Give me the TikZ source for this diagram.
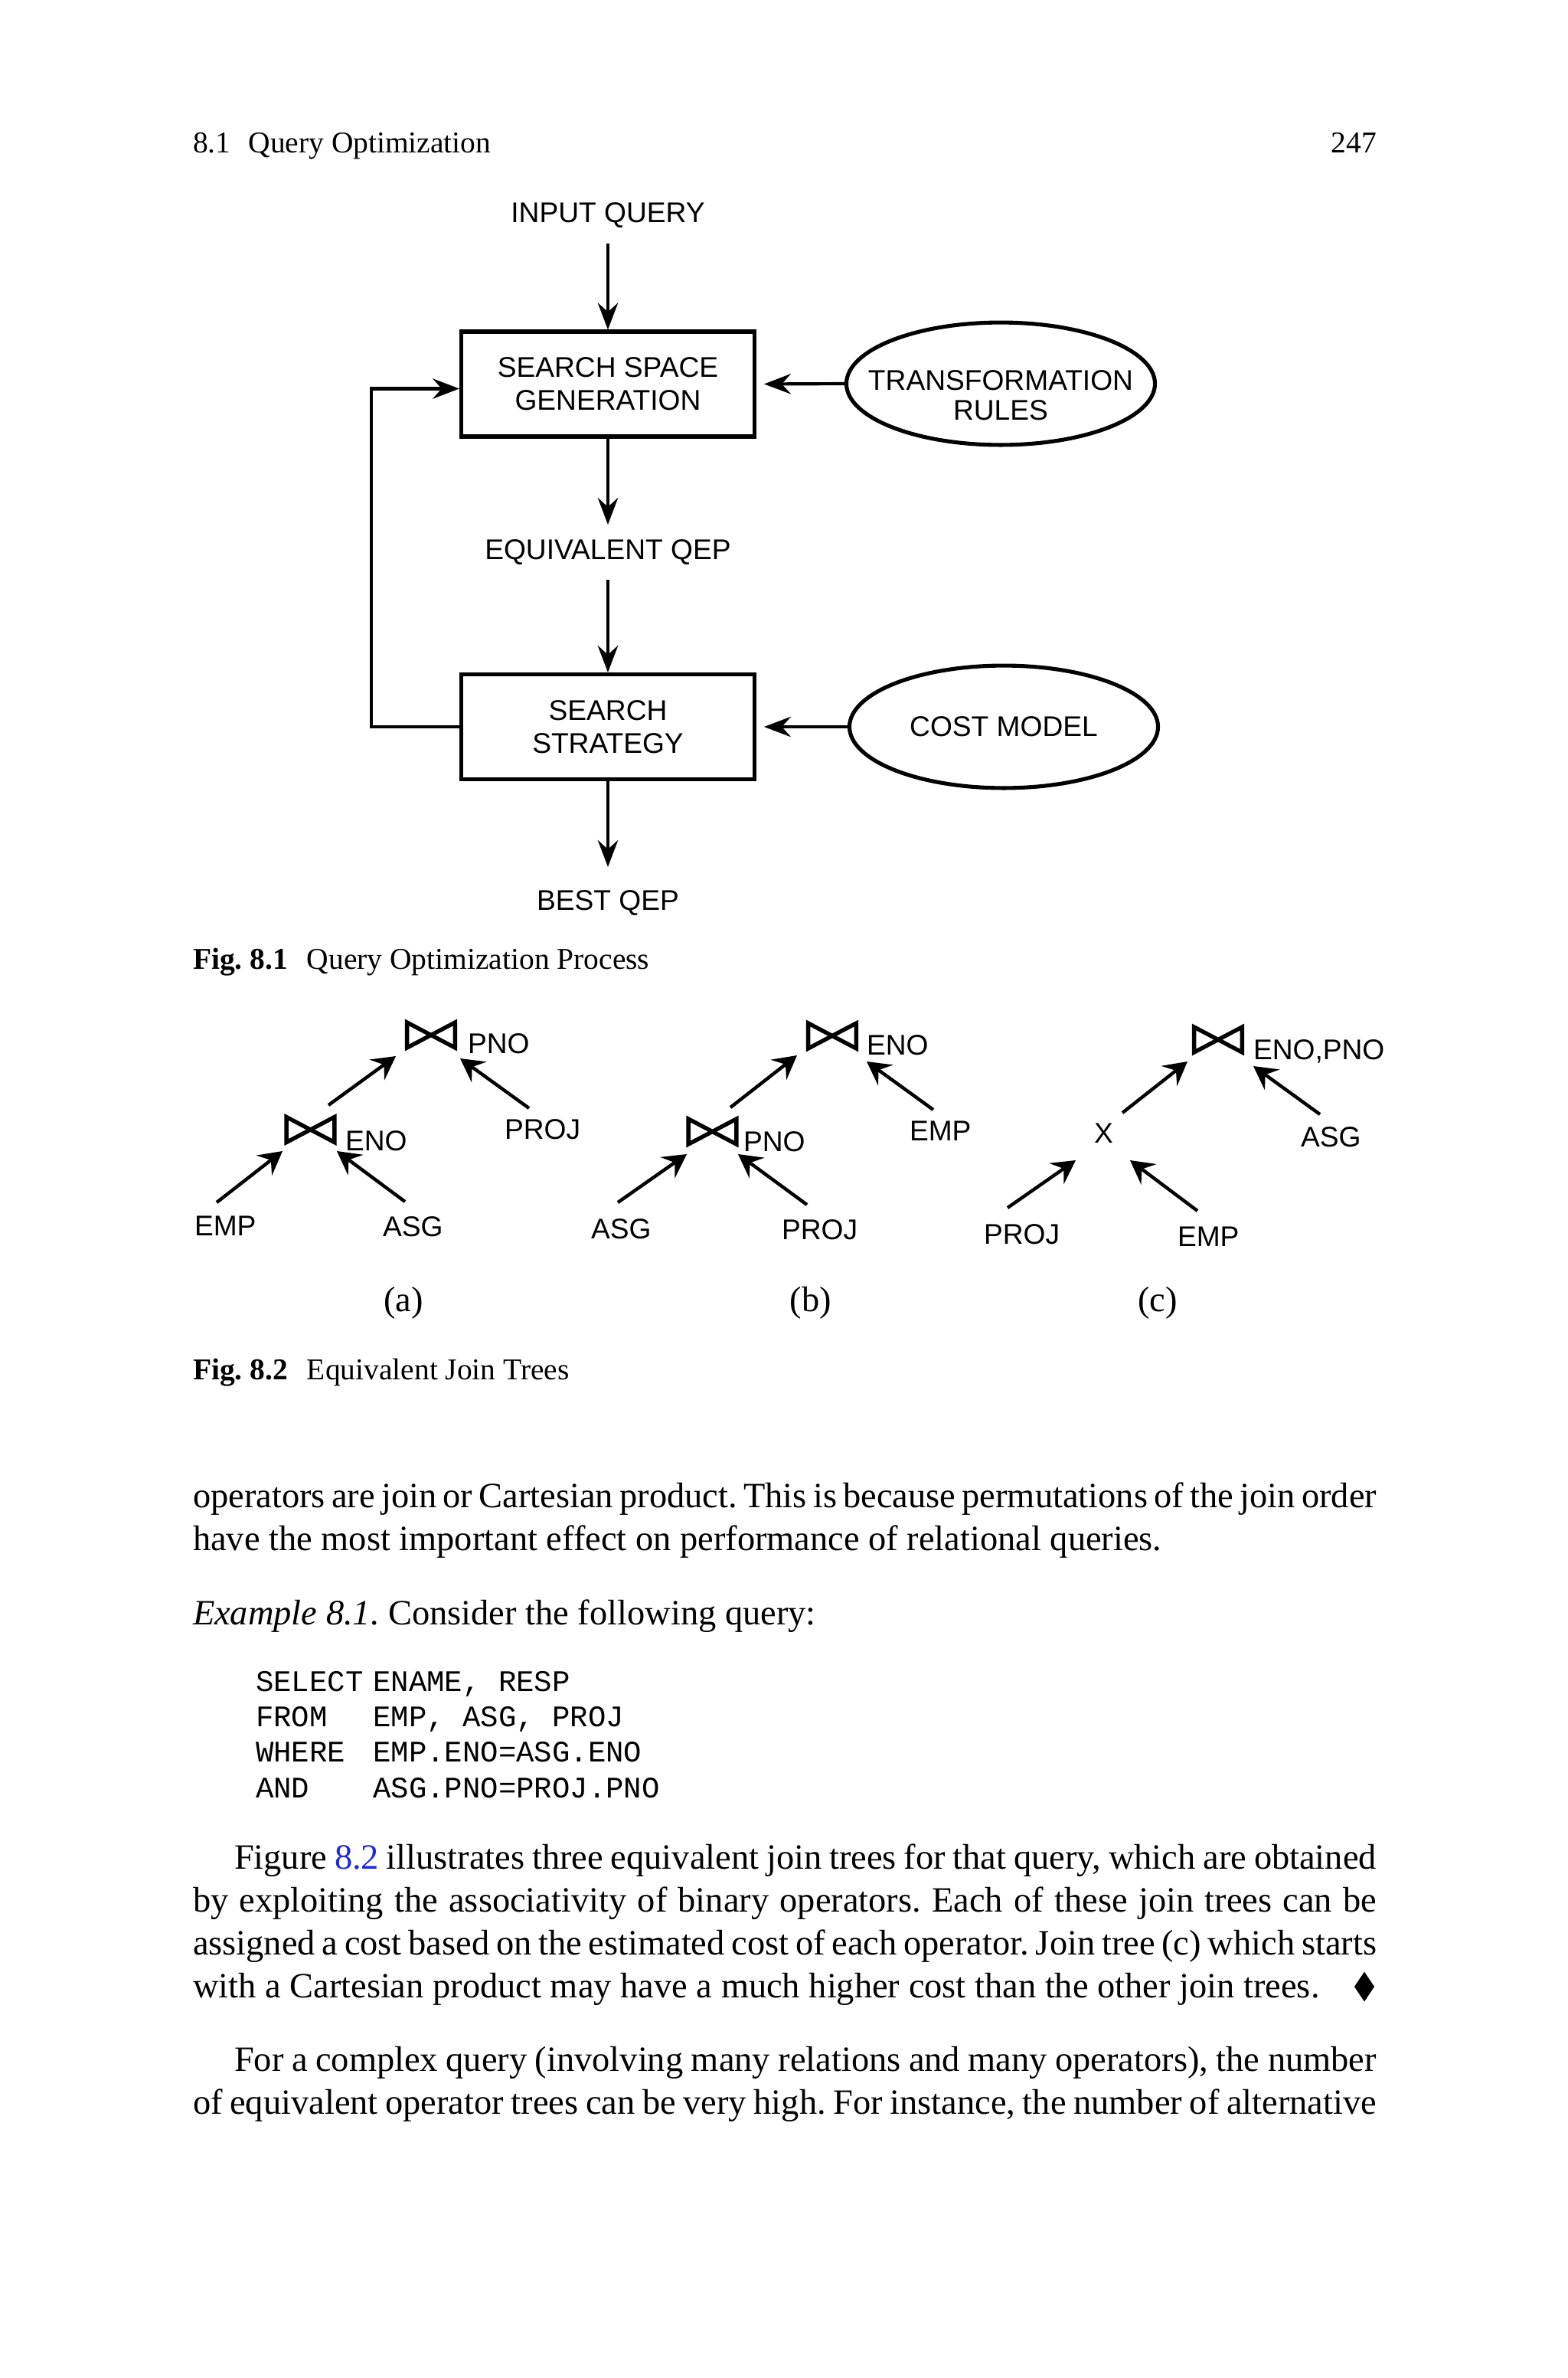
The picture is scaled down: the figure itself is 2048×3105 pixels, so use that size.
\documentclass[tikz,border=0pt]{standalone}
\usepackage{fontspec}
\setmainfont{Liberation Serif}
\setmonofont{Liberation Mono}
\newfontfamily\diagfont{Liberation Sans}
\usetikzlibrary{arrows.meta,shapes.geometric}
\definecolor{linkblue}{RGB}{30,40,220}
\frenchspacing
\begin{document}
\begin{tikzpicture}[x=0.0756836mm,y=-0.0756836mm,
  every node/.style={inner sep=0pt, outer sep=0pt},
  dtext/.style={font=\diagfont\fontsize{8}{9.25}\selectfont},
  boxnode/.style={draw, line width=1.15pt, minimum width=28.95mm, minimum height=10.35mm,
     font=\diagfont\fontsize{8}{9.25}\selectfont, align=center, outer sep=0.575pt},
  ellnode/.style={draw, ellipse, line width=1.1pt, minimum width=30.5mm, minimum height=12.1mm, outer sep=0.55pt},
  elltext/.style={font=\diagfont\fontsize{8}{8.4}\selectfont, align=center},
  arr/.style={line width=0.9pt, -{Stealth[length=2.65mm,width=2mm,inset=0.9mm]}},
  tarr/.style={line width=0.95pt, -{Stealth[length=2.3mm,width=2.5mm,inset=0.85mm]}},
  tlabel/.style={font=\diagfont\fontsize{8}{9.6}\selectfont, anchor=base west},
  jn/.style={minimum width=4.75mm, minimum height=2.5mm},
  bowline/.style={line width=1.15pt},
  body/.style={font=\fontsize{10}{12}\selectfont, anchor=base west},
  capt/.style={font=\fontsize{8.5}{10}\selectfont, anchor=base west},
  code/.style={font=\ttfamily\fontsize{8.4}{10}\selectfont, anchor=base west},
]
\useasboundingbox (0,0) rectangle (2048,3105);
\fill[white] (0,0) rectangle (2048,3105);

% running head
\node[capt] (hdr) at (252,199) {8.1\hspace{5pt}Query Optimization};
\node[capt, anchor=base east] (pg) at (1798,199) {247};

% ---------- Fig 8.1 ----------
\node[dtext, anchor=base] (inq) at (794,290) {INPUT QUERY};
\node[boxnode] (ssg) at (794,501.5) {SEARCH SPACE\\GENERATION};
\node[ellnode] (tr) at (1307,501) {};
\node[elltext] (trt) at (1307,516) {TRANSFORMATION\\RULES};
\node[dtext, anchor=base] (eq) at (794,730) {EQUIVALENT QEP};
\node[boxnode] (ss) at (794,949) {SEARCH\\STRATEGY};
\node[ellnode] (cm) at (1311,949) {};
\node[dtext] (cmt) at (1311,949) {COST MODEL};
\node[dtext, anchor=base] (best) at (794,1188) {BEST QEP};

\draw[arr] ([shift={(0,28)}]inq.base) -- (ssg.north);
\draw[arr, shorten >=0.76mm] (tr.west) -- (ssg.east);
\draw[arr] (ssg.south) -- ([shift={(0,-45)}]eq.base);
\draw[arr] ([shift={(0,27)}]eq.base) -- (ss.north);
\draw[arr, shorten >=0.76mm] (cm.west) -- (ss.east);
\draw[arr] (ss.south) -- ([shift={(0,-56)}]best.base);
\draw[arr] (ss.west) -- ++(-115,0) |- ([shift={(0,6)}]ssg.west);

\node[capt] (cap1) at (252,1265) {\textbf{Fig. 8.1}\hspace{5.4pt}Query Optimization Process};

% ---------- Fig 8.2 ----------
% tree (a)
\node[jn] (ja1) at (563,1351.5) {};
\node[tlabel] (ja1s) at (611,1375) {PNO};
\node[jn] (ja2) at (405.5,1475) {};
\node[tlabel] (ja2s) at (451,1502) {ENO};
\node[tlabel] (aemp) at (254,1613) {EMP};
\node[tlabel] (aasg) at (500,1614) {ASG};
\node[tlabel] (aproj) at (659,1487) {PROJ};
\node[body, anchor=base] (la) at (527,1712) {(a)};
\draw[tarr] ([shift={(29,-43)}]aemp.base west) -- ([shift={(-36.5,28)}]ja2.center);
\draw[tarr] ([shift={(29,-45)}]aasg.base west) -- ([shift={(34.5,28)}]ja2.center);
\draw[tarr] ([shift={(23.5,-32)}]ja2.center) -- ([shift={(-46,27.5)}]ja1.center);
\draw[tarr] ([shift={(32,-40)}]aproj.base west) -- ([shift={(38,30.5)}]ja1.center);

% tree (b)
\node[jn] (jb1) at (1087,1352.5) {};
\node[tlabel] (jb1s) at (1132,1377) {ENO};
\node[jn] (jb2) at (930.5,1477.5) {};
\node[tlabel] (jb2s) at (971,1503) {PNO};
\node[tlabel] (basg) at (772,1617) {ASG};
\node[tlabel] (bproj) at (1021,1618) {PROJ};
\node[tlabel] (bemp) at (1188,1489) {EMP};
\node[body, anchor=base] (lb) at (1059,1712) {(b)};
\draw[tarr] ([shift={(35,-47)}]basg.base west) -- ([shift={(-33.5,29.5)}]jb2.center);
\draw[tarr] ([shift={(33,-45)}]bproj.base west) -- ([shift={(33.5,29.5)}]jb2.center);
\draw[tarr] ([shift={(23.5,-31.5)}]jb2.center) -- ([shift={(-46,25.5)}]jb1.center);
\draw[tarr] ([shift={(31,-40)}]bemp.base west) -- ([shift={(45,33.5)}]jb1.center);

% tree (c)
\node[jn] (jc1) at (1591,1357.5) {};
\node[tlabel] (jc1s) at (1637,1383) {ENO,PNO};
\node[tlabel] (cx) at (1429,1492) {X};
\node[tlabel] (casg) at (1699,1497) {ASG};
\node[tlabel] (cproj) at (1285,1624) {PROJ};
\node[tlabel] (cemp) at (1538,1627) {EMP};
\node[body, anchor=base] (lc) at (1512,1712) {(c)};
\draw[tarr] ([shift={(31,-47)}]cproj.base west) -- ([shift={(-24,23)}]cx.base west);
\draw[tarr] ([shift={(26,-46)}]cemp.base west) -- ([shift={(47,23)}]cx.base west);
\draw[tarr] ([shift={(37,-39)}]cx.base west) -- ([shift={(-40,28.5)}]jc1.center);
\draw[tarr] ([shift={(25,-42)}]casg.base west) -- ([shift={(46,34.5)}]jc1.center);

\foreach \j in {ja1,ja2,jb1,jb2,jc1}
  \draw[bowline] (\j.south west) -- (\j.north west) -- (\j.south east) -- (\j.north east) -- cycle;

\node[capt] (cap2) at (252,1801) {\textbf{Fig. 8.2}\hspace{5.4pt}Equivalent Join Trees};

% ---------- body text ----------
\node[body] (p1a) at (252,1968) {\makebox[117mm][s]{operators are join or Cartesian product. This is because permutations of the join order}};
\node[body] (p1b) at (252,2024) {have the most important effect on performance of relational queries.};
\node[body] (ex) at (252,2121) {\textit{Example 8.1.} Consider the following query:};

\node[code] (c1) at (334,2208) {\makebox[11.6mm][l]{SELECT}ENAME, RESP};
\node[code] (c2) at (334,2254) {\makebox[11.6mm][l]{FROM}EMP, ASG, PROJ};
\node[code] (c3) at (334,2300) {\makebox[11.6mm][l]{WHERE}EMP.ENO=ASG.ENO};
\node[code] (c4) at (334,2347) {\makebox[11.6mm][l]{AND}ASG.PNO=PROJ.PNO};

\node[body] (p2a) at (306,2440) {\makebox[112.9mm][s]{Figure \textcolor{linkblue}{8.2} illustrates three equivalent join trees for that query, which are obtained}};
\node[body] (p2b) at (252,2496) {\makebox[117mm][s]{by exploiting the associativity of binary operators. Each of these join trees can be}};
\node[body] (p2c) at (252,2552) {\makebox[117mm][s]{assigned a cost based on the estimated cost of each operator. Join tree (c) which starts}};
\node[body] (p2d) at (252,2608) {with a Cartesian product may have a much higher cost than the other join trees.};
\node[diamond, fill=black, minimum width=1.97mm, minimum height=2.95mm] (qed) at (1782,2594) {};

\node[body] (p3a) at (306,2704) {\makebox[112.9mm][s]{For a complex query (involving many relations and many operators), the number}};
\node[body] (p3b) at (252,2760) {\makebox[117mm][s]{of equivalent operator trees can be very high. For instance, the number of alternative}};
\end{tikzpicture}
\end{document}
